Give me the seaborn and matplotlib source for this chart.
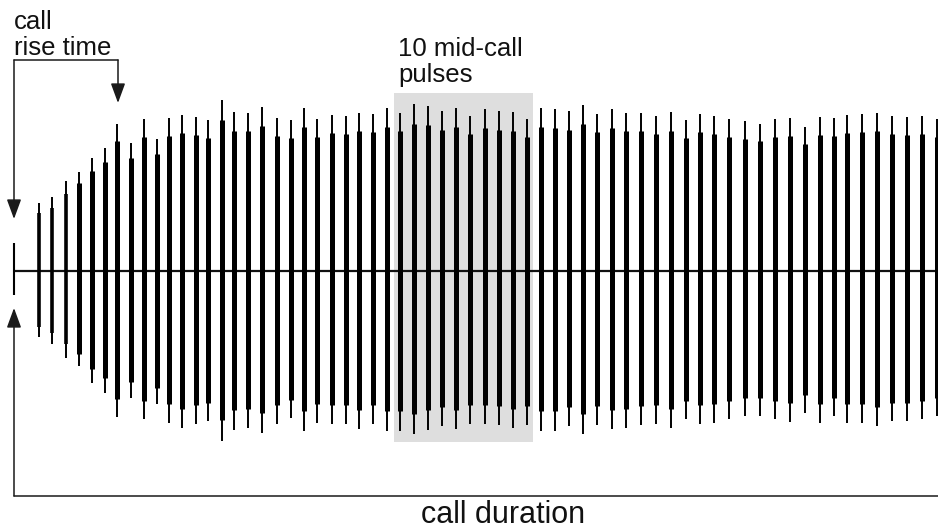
import numpy as np
import pandas as pd
import matplotlib
matplotlib.use('Agg')
import matplotlib.pyplot as plt
import seaborn as sns

## DATA
# pulse onset times (arbitrary time units)
pulse_t = [14, 39, 52, 66, 79, 92, 105, 117, 131, 144, 157, 169, 182, 196, 208,
           222, 234, 248, 262, 277, 291, 304, 317, 332, 346, 359, 373, 387,
           400, 414, 428, 442, 456, 470, 485, 499, 513, 527,
           541, 555, 569, 583, 597, 612, 626, 641, 656, 671, 686, 700, 714,
           729, 745, 760, 775, 790, 805, 820, 834, 847, 862, 877, 892, 907,
           922, 937]
# positive / negative peak amplitude of every pulse
amp_up = [28, 68, 74, 90, 99, 113, 123, 147, 128, 152, 132, 153, 156, 154, 151,
          171, 159, 158, 164, 153, 151, 163, 152, 156, 155, 158, 157, 163,
          158, 167, 165, 160, 163, 155, 162, 160, 159, 152,
          163, 162, 160, 166, 157, 162, 158, 158, 155, 159, 151, 157, 155,
          152, 150, 147, 152, 153, 144, 154, 153, 156, 157, 158, 155, 154,
          155, 152]
amp_down = [24, 66, 73, 87, 95, 112, 122, 146, 127, 148, 133, 152, 157, 153, 150,
            170, 159, 157, 162, 153, 147, 160, 152, 153, 153, 158, 153, 160,
            160, 163, 159, 155, 158, 153, 153, 154, 157, 154,
            160, 160, 155, 163, 154, 158, 157, 154, 153, 157, 148, 153, 152,
            148, 145, 145, 148, 151, 142, 152, 145, 152, 152, 155, 150, 150,
            148, 145]
# the 10 mid-call pulses highlighted
mid_first = 28
mid_count = 10

df = pd.DataFrame({'t': pulse_t, 'up': amp_up, 'down': amp_down})

W, H = 938, 529
BASE_PX = 270.5  # baseline height in image pixels

sns.set_theme(style='white')
plt.rcParams['font.family'] = ['Liberation Sans', 'DejaVu Sans']

fig = plt.figure(figsize=(W / 100, H / 100), dpi=100)
ax = fig.add_axes([0, 0, 1, 1])
ax.set_xlim(0, W)
ax.set_ylim(-(H - BASE_PX), BASE_PX)
ax.axis('off')

# shaded box around the mid-call pulses
mid = df.iloc[mid_first:mid_first + mid_count]
ax.axvspan(mid['t'].min() - 6, mid['t'].max() + 6, ymin=(H - 442) / H, ymax=(H - 93) / H,
           color='#dedede', lw=0, zorder=0)

# baseline
sns.lineplot(x=[df['t'].min(), W], y=[0, 0], color='#111111', lw=1.6, ax=ax, zorder=1)

# pulses: thin full-amplitude spike plus a thicker body
first = df.iloc[:1]
early = df.iloc[1:4]
rest = df.iloc[4:]
ax.vlines(first['t'], -first['down'], first['up'], color='black', lw=1.5, zorder=2)
ax.vlines(df['t'][1:], -df['down'][1:], df['up'][1:], color='black', lw=1.4, zorder=2)
ax.vlines(early['t'], -early['down'] * 0.85, early['up'] * 0.85, color='black', lw=2.6, zorder=2)
ax.vlines(rest['t'], -rest['down'] * 0.88, rest['up'] * 0.88, color='black', lw=3.6, zorder=2)


## ANNOTATIONS (image pixel coords)
def P(x, y):
    return (x, H - y)

line_kw = dict(arrowstyle='-', color='#1a1a1a', lw=1.1, shrinkA=0, shrinkB=0)
arr_kw = dict(arrowstyle='-|>,head_length=0.6,head_width=0.22', color='#1a1a1a', lw=1.1,
              shrinkA=0, shrinkB=0, mutation_scale=20)

# rise-time bracket
ax.annotate('', xy=P(118, 60), xytext=P(14, 60), xycoords='figure pixels', arrowprops=line_kw)
ax.annotate('', xy=P(14, 219), xytext=P(14, 60), xycoords='figure pixels', arrowprops=arr_kw)
ax.annotate('', xy=P(118, 103), xytext=P(118, 60), xycoords='figure pixels', arrowprops=arr_kw)

# call-duration bracket
ax.annotate('', xy=P(W, 496), xytext=P(14, 496), xycoords='figure pixels', arrowprops=line_kw)
ax.annotate('', xy=P(14, 308), xytext=P(14, 496), xycoords='figure pixels', arrowprops=arr_kw)

txt = dict(fontsize=18.5, color='#111111', va='baseline')
fig.text(14 / W, 1 - 29 / H, 'call', ha='left', **txt)
fig.text(14 / W, 1 - 55 / H, 'rise time', ha='left', **txt)
fig.text(398 / W, 1 - 56 / H, '10 mid-call', ha='left', **txt)
fig.text(398 / W, 1 - 82 / H, 'pulses', ha='left', **txt)
fig.text(503 / W, 1 - 523 / H, 'call duration', ha='center', fontsize=22, color='#111111',
         va='baseline')

fig.savefig('out.png', dpi=100, facecolor='white')
